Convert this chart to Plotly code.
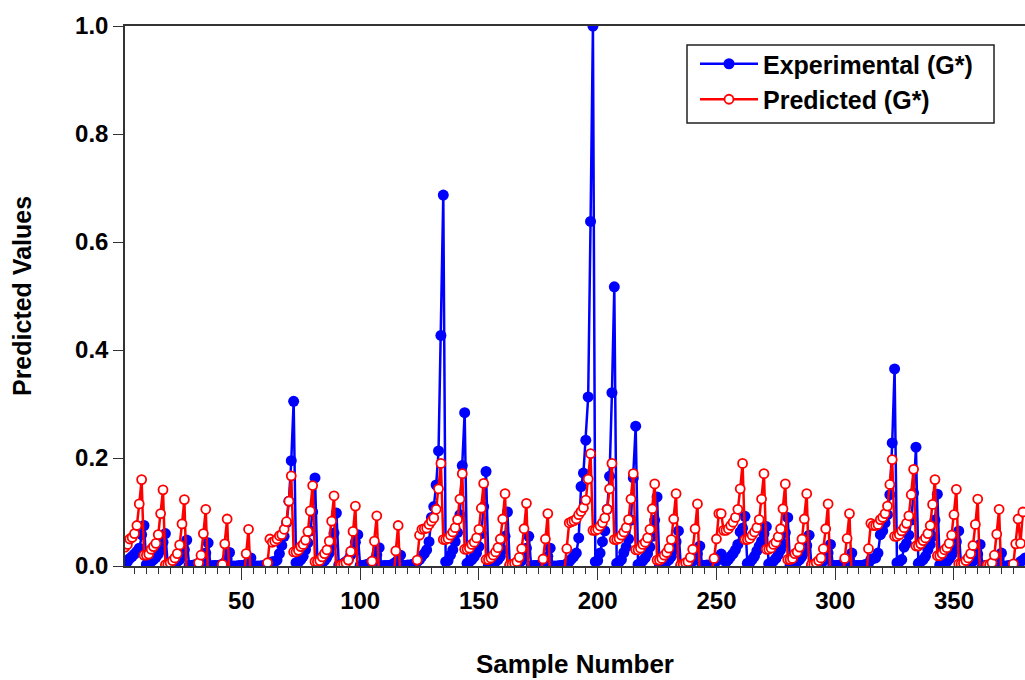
import numpy as np
import plotly.graph_objects as go

experimental = [
 .005,.008,.014,.018,.022,.027,.033,.058,.075,
 .003,.005,.008,.012,.016,.022,.03,.044,.06,
 .001,.002,.003,.005,.008,.012,.018,.03,.048,
 .001,.001,.002,.003,.004,.007,.012,.024,.043,
 0,.001,.001,.001,.002,.003,.006,.013,.025,
 0,0,0,.001,.001,.001,.003,.007,.015,
 0,0,0,0,.001,.001,.002,.004,.008,
 .008,.011,.023,.038,.055,.08,.12,.195,.305,
 .006,.007,.012,.018,.03,.043,.065,.1,.163,
 .003,.004,.006,.01,.016,.024,.037,.061,.098,
 .002,.003,.005,.008,.012,.02,.03,.044,.058,
 .001,.001,.002,.003,.005,.008,.012,.021,.034,
 0,.001,.001,.001,.002,.004,.007,.012,.02,
 .001,.001,.002,.002,.003,.005,.008,.012,.018,
 .023,.03,.045,.09,.11,.15,.213,.427,.687,
 .008,.01,.02,.03,.045,.062,.095,.186,.284,
 .005,.008,.012,.017,.024,.036,.06,.11,.175,
 .002,.003,.005,.008,.012,.018,.03,.055,.1,
 .001,.002,.003,.004,.006,.01,.017,.033,.055,
 0,.001,.001,.001,.003,.005,.009,.018,.033,
 0,0,0,.001,.001,.002,.004,.008,.013,
 .018,.024,.052,.147,.172,.233,.313,.638,1.0,
 .008,.01,.024,.045,.065,.105,.166,.321,.517,
 .005,.007,.012,.025,.035,.05,.085,.163,.259,
 .003,.005,.01,.015,.023,.035,.055,.085,.128,
 .002,.003,.005,.008,.012,.018,.03,.045,.065,
 .001,.002,.003,.004,.006,.009,.015,.023,.037,
 .001,.001,.002,.002,.003,.005,.009,.015,.022,
 .012,.007,.012,.018,.023,.03,.04,.063,.07,.092,
 .005,.006,.012,.018,.028,.037,.046,.06,.073,
 .004,.006,.009,.014,.021,.03,.042,.062,.09,
 .002,.003,.005,.008,.012,.018,.026,.038,.057,
 .001,.002,.003,.004,.006,.009,.014,.024,.04,
 .001,.001,.001,.002,.002,.004,.007,.013,.024,
 .001,.001,.001,.001,.002,.003,.005,.012,.014,
 .015,.024,.058,.065,.08,.095,.132,.228,.365,
 .006,.008,.012,.035,.042,.057,.085,.135,.22,
 .005,.008,.012,.018,.03,.04,.055,.085,.133,
 .002,.003,.005,.008,.013,.02,.03,.045,.065,
 .001,.002,.003,.004,.006,.009,.014,.022,.04,
 0,.001,.001,.001,.002,.004,.007,.013,.024,
 0,0,.001,.001,.001,.002,.004,.008,.011,
 .015,
]

predicted = [
 .035,.04,.05,.053,.06,.075,.115,.16,
 .02,.02,.022,.031,.036,.042,.058,.097,.141,
 .002,.003,.006,.01,.015,.023,.039,.078,.123,
 -.03,-.03,-.03,-.03,-.01,.006,.02,.06,.105,
 -.03,-.03,-.03,-.03,-.03,-.03,.003,.041,.087,
 -.03,-.03,-.03,-.03,-.03,-.03,-.03,.023,.068,
 -.03,-.03,-.03,-.03,-.03,-.03,-.03,.006,.05,
 .044,.046,.05,.056,.058,.068,.082,.12,.167,
 .026,.026,.029,.036,.04,.048,.064,.102,.149,
 .008,.008,.01,.017,.023,.03,.046,.083,.13,
 -.03,-.01,.002,.004,.006,.011,.027,.064,.111,
 -.03,-.03,-.03,-.03,-.03,-.03,.009,.046,.093,
 -.03,-.03,-.03,-.03,-.03,-.03,-.03,.028,.075,
 -.03,-.03,-.03,-.03,-.03,-.03,-.03,.011,.057,
 .068,.069,.07,.077,.083,.089,.105,.143,.19,
 .049,.049,.051,.057,.063,.071,.086,.124,.171,
 .031,.031,.033,.04,.044,.052,.068,.107,.153,
 .012,.012,.015,.02,.026,.034,.05,.087,.134,
 -.01,.002,.003,.005,.008,.016,.032,.069,.116,
 -.03,-.03,-.03,-.03,-.03,-.01,.013,.05,.097,
 -.03,-.03,-.03,-.03,-.03,-.03,-.01,.032,.08,
 .082,.084,.087,.095,.101,.108,.122,.161,.208,
 .066,.066,.068,.074,.08,.089,.105,.143,.19,
 .049,.049,.051,.057,.063,.071,.086,.124,.171,
 .03,.03,.033,.04,.044,.052,.068,.106,.152,
 .011,.011,.014,.02,.025,.033,.049,.087,.134,
 -.01,.002,.003,.006,.008,.016,.031,.069,.115,
 -.03,-.03,-.03,-.03,-.03,-.01,.014,.05,.097,
 .097,.066,.066,.069,.075,.081,.09,.105,.143,.19,
 .049,.049,.051,.057,.063,.071,.086,.124,.171,
 .031,.031,.033,.04,.044,.054,.069,.106,.152,
 .012,.012,.014,.023,.026,.035,.05,.087,.134,
 -.01,.002,.003,.006,.01,.015,.032,.069,.115,
 -.03,-.03,-.03,-.03,-.03,-.03,.014,.051,.097,
 -.03,-.03,-.03,-.03,-.03,-.03,-.03,.032,.079,
 .075,.075,.077,.086,.09,.097,.111,.151,.197,
 .055,.055,.058,.065,.071,.079,.093,.132,.179,
 .037,.037,.041,.047,.052,.06,.075,.114,.16,
 .019,.019,.023,.03,.034,.042,.057,.095,.142,
 .004,.004,.005,.01,.015,.023,.038,.077,.124,
 -.03,-.03,-.01,.002,.002,.006,.02,.059,.105,
 -.03,-.03,-.03,-.03,-.03,.004,.041,.087,
 .042,.1,
]

y_ticks = [0.0, 0.2, 0.4, 0.6, 0.8, 1.0]
sample_numbers = list(range(1, len(experimental) + 1))
sample_numbers_pred = list(range(1, len(predicted) + 1))

FONT = "Liberation Sans"
fig = go.Figure()
fig.add_trace(go.Scatter(x=sample_numbers, y=experimental, mode="lines+markers",
    name="Experimental (G*)", line=dict(color="#0000ff", width=2.5),
    marker=dict(color="#0000ff", size=11, line=dict(width=0))))
fig.add_trace(go.Scatter(x=sample_numbers_pred, y=predicted, mode="lines+markers",
    name="Predicted (G*)", line=dict(color="#ff0000", width=2.5),
    marker=dict(color="#ffffff", size=9, line=dict(color="#ff0000", width=1.8))))

fig.add_shape(type="rect", xref="paper", yref="paper",
    x0=(687-125)/900, x1=(994-125)/900, y0=1-(123-26)/540, y1=1-(45-26)/540,
    fillcolor="white", line=dict(color="#222222", width=1.5), layer="above")

fig.update_layout(
    width=1025, height=680, autosize=False, plot_bgcolor="white", paper_bgcolor="white",
    margin=dict(l=125, r=0, t=26, b=114),
    font=dict(family=FONT, size=22, color="black"),
    legend=dict(x=(695-125)/900, y=1-(41-26)/540, xanchor="left", yanchor="top",
        bgcolor="rgba(0,0,0,0)", borderwidth=0,
        font=dict(family=FONT, size=25, weight="bold"), itemwidth=58, tracegroupgap=0),
    xaxis=dict(range=[1, 379.9], tickmode="linear", tick0=0, dtick=50,
        ticks="outside", ticklen=12, tickwidth=1, tickcolor="#333333",
        minor=dict(dtick=5, ticks="outside", ticklen=6, tickwidth=1, tickcolor="#333333", tick0=0),
        showgrid=False, zeroline=False, showline=True, linecolor="#333333", linewidth=1.5, mirror=True,
        tickfont=dict(family=FONT, size=24, weight="bold"),
        title=dict(text="Sample Number", font=dict(family=FONT, size=26, weight="bold"), standoff=42)),
    yaxis=dict(range=[0, 1], tickvals=y_ticks, ticktext=[f"{v:.1f}" for v in y_ticks],
        ticks="outside", ticklen=10, tickwidth=1, tickcolor="#333333",
        showgrid=False, zeroline=False, showline=True, linecolor="#333333", linewidth=1.5,
        tickfont=dict(family=FONT, size=24, weight="bold"),
        title=dict(text="Predicted Values", font=dict(family=FONT, size=25, weight="bold"), standoff=36)),
)
fig.write_html("out.html", post_script="document.body.style.margin='0';", config={"displayModeBar": False})
